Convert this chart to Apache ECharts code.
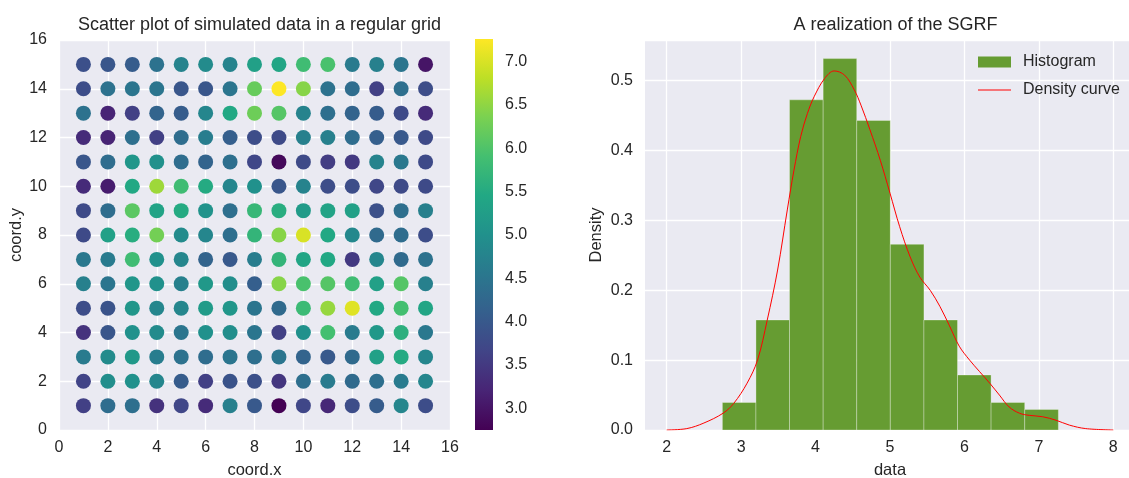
<!DOCTYPE html>
<html><head><meta charset="utf-8">
<script src="https://cdn.jsdelivr.net/npm/echarts@6/dist/echarts.min.js"></script>
<style>html,body{margin:0;padding:0;background:#fff}#c{width:1129px;height:478px}</style>
</head><body><div id="c"></div>
<script>
// ---- Data: scatter grid (rows from y=15 down to y=1, columns x=1..15) ----
const gridXs = [1,2,3,4,5,6,7,8,9,10,11,12,13,14,15];
const gridYs = [15,14,13,12,11,10,9,8,7,6,5,4,3,2,1];
const gridValues = [
  [3.85,3.95,4.05,4.45,4.75,4.9,4.75,5.3,5.4,5.85,5.95,4.6,4.7,4.5,3.0],
  [3.8,4.45,4.5,4.5,3.95,3.95,4.5,6.2,7.262,6.45,4.45,4.35,3.6,4.4,3.8],
  [4.45,3.2,3.6,4.2,4.05,4.8,5.45,6.25,6.05,4.75,4.4,4.2,4.05,3.75,3.3],
  [3.3,3.2,4.4,3.6,4.35,4.65,4.1,3.8,3.75,4.7,4.7,4.35,4.1,4.0,3.75],
  [3.95,4.35,5.1,5.0,4.35,4.2,4.4,3.7,2.85,3.75,3.55,3.5,4.75,4.55,3.75],
  [3.3,3.1,5.45,6.6,5.85,5.5,4.8,5.0,3.95,4.75,3.8,3.8,3.7,3.75,3.75],
  [3.75,4.35,6.1,5.35,5.5,5.05,4.4,5.75,5.55,5.2,5.35,5.3,3.85,4.4,4.7],
  [3.75,5.3,5.55,6.3,4.9,4.8,4.4,5.7,6.45,7.0,5.45,4.85,4.3,4.35,3.8],
  [4.55,4.6,5.85,5.0,4.8,4.2,4.0,4.65,5.7,5.4,5.45,3.5,4.8,4.3,4.45],
  [4.7,4.5,5.1,5.0,4.7,5.15,4.95,4.1,6.45,5.95,6.05,5.85,5.3,6.05,4.7],
  [3.8,3.9,5.1,4.8,4.8,5.2,5.1,4.5,4.3,5.8,6.55,7.05,5.45,5.9,5.4],
  [3.4,3.95,5.0,4.9,4.5,5.0,4.95,4.5,3.6,5.0,5.9,4.6,5.15,5.6,4.55],
  [4.6,4.9,5.15,4.65,4.45,4.35,4.5,4.4,4.5,4.2,4.0,4.3,5.3,5.5,4.8],
  [3.65,4.95,5.0,4.8,4.05,3.6,3.9,3.85,3.45,4.4,4.6,4.3,4.4,4.6,4.8],
  [3.6,4.35,4.4,3.4,3.7,3.3,4.7,4.0,2.748,3.7,3.25,3.8,4.05,4.8,3.8]
];
const colorbarTicks = [3.0,3.5,4.0,4.5,5.0,5.5,6.0,6.5,7.0];
const colorMin = 2.748, colorMax = 7.262;

// ---- Data: histogram + density curve ----
const binEdges = [2.748,3.199,3.650,4.102,4.553,5.004,5.456,5.907,6.358,6.810,7.262];
const binDensity = [0.0394,0.1575,0.4726,0.5317,0.4431,0.2658,0.1575,0.0788,0.0394,0.0295];
const kdeX = [2.0,2.27,2.5,2.757,2.9,3.08,3.22,3.35,3.49,3.62,3.71,3.80,3.89,3.98,4.12,4.25,4.39,4.52,4.61,4.73,4.87,5.0,5.13,5.27,5.40,5.54,5.67,5.80,5.93,6.07,6.20,6.34,6.47,6.60,6.74,6.87,7.05,7.23,7.41,7.63,8.0];
const kdeY = [0,0.002,0.01,0.024,0.038,0.067,0.10,0.157,0.229,0.315,0.372,0.42,0.453,0.477,0.503,0.514,0.508,0.487,0.465,0.43,0.386,0.339,0.291,0.248,0.219,0.20,0.177,0.149,0.12,0.10,0.084,0.067,0.05,0.033,0.024,0.021,0.019,0.014,0.007,0.002,0];

const viridis = ['#440154','#482475','#414487','#355f8d','#2a788e','#21918c','#22a884','#44bf70','#7ad151','#bddf26','#fde725'];

const scatterData = [];
gridYs.forEach((y, i) => gridXs.forEach((x, j) => scatterData.push([x, y, gridValues[i][j]])));
const histData = binDensity.map((d, i) => [binEdges[i], binEdges[i+1], d]);
const kdeData = kdeX.map((x, i) => [x, kdeY[i]]);

const TXT = '#262626';
const FONT = "'Liberation Sans', Arial, sans-serif";
const BG = '#EAEAF2';
const splitWhite = {show:true, lineStyle:{color:'#ffffff', width:1.3}};
const lbl = (extra) => Object.assign({color:TXT, fontSize:16, fontFamily:FONT}, extra||{});
const nameStyle = lbl({fontSize:16.5});
const gridBase = {outerBoundsMode:'none', containLabel:false, borderWidth:0};

const chart = echarts.init(document.getElementById('c'), null, {renderer:'canvas'});
chart.setOption({
  animation:false,
  textStyle:{fontFamily:FONT, color:TXT},
  title:[
    {text:'Scatter plot of simulated data in a regular grid', left:254.5, top:11, textAlign:'center',
     textStyle:{fontSize:18, fontWeight:'normal', color:TXT, fontFamily:FONT}},
    {text:'A realization of the SGRF', left:890.5, top:11, textAlign:'center',
     textStyle:{fontSize:18, fontWeight:'normal', color:TXT, fontFamily:FONT}}
  ],
  grid:[
    Object.assign({left:59, top:40, width:391, height:390, show:true, backgroundColor:BG}, gridBase),
    Object.assign({left:475, top:39, width:18, height:391, show:false}, gridBase),
    Object.assign({left:645, top:40, width:491, height:390, show:true, backgroundColor:BG}, gridBase),
    Object.assign({left:666.7, top:40, width:446.6, height:390, show:false}, gridBase)
  ],
  xAxis:[
    {type:'value', gridIndex:0, min:0, max:16, interval:2,
     axisLine:{show:false}, axisTick:{show:false}, splitLine:splitWhite,
     axisLabel:lbl({margin:10}),
     name:'coord.x', nameLocation:'middle', nameGap:32, nameTextStyle:nameStyle},
    {type:'value', gridIndex:1, min:0, max:1, show:false},
    {type:'value', gridIndex:2, min:1.7, max:8.3, show:false},
    {type:'value', gridIndex:3, min:2, max:8, interval:1,
     axisLine:{show:false}, axisTick:{show:false}, splitLine:splitWhite,
     axisLabel:lbl({margin:10}),
     name:'data', nameLocation:'middle', nameGap:32, nameTextStyle:nameStyle}
  ],
  yAxis:[
    {type:'value', gridIndex:0, min:0, max:16, interval:2,
     axisLine:{show:false}, axisTick:{show:false}, splitLine:splitWhite,
     axisLabel:lbl({margin:12}),
     name:'coord.y', nameLocation:'middle', nameGap:34, nameTextStyle:nameStyle},
    {type:'value', gridIndex:1, min:colorMin, max:colorMax, position:'right',
     axisLine:{show:false}, axisTick:{show:false}, splitLine:{show:false},
     axisLabel:lbl({margin:12, customValues:colorbarTicks, formatter:v=>Number(v).toFixed(1)})},
    {type:'value', gridIndex:2, min:0, max:0.5583, interval:0.1,
     axisLine:{show:false}, axisTick:{show:false}, splitLine:splitWhite,
     axisLabel:lbl({margin:12, showMaxLabel:false, formatter:v=>Number(v).toFixed(1)}),
     name:'Density', nameLocation:'middle', nameGap:40, nameTextStyle:nameStyle},
    {type:'value', gridIndex:3, min:0, max:0.5583, show:false}
  ],
  visualMap:[{type:'continuous', show:false, min:colorMin, max:colorMax, dimension:2, seriesIndex:0,
              inRange:{color:viridis}}],
  legend:{
    left:978, top:54, padding:0, orient:'vertical', itemWidth:33, itemHeight:11, itemGap:12, selectedMode:false,
    textStyle:{fontSize:16, color:TXT, fontFamily:FONT, padding:[0,0,0,7]},
    data:[
      {name:'Histogram', icon:'rect'},
      {name:'Density curve', icon:'path://M0,0L0,11ZM0,5L33,5L33,6L0,6Z', itemStyle:{color:'#ff0000'}}
    ]
  },
  series:[
    {type:'scatter', xAxisIndex:0, yAxisIndex:0, symbolSize:15, itemStyle:{opacity:1}, data:scatterData},
    {type:'custom', xAxisIndex:1, yAxisIndex:1, silent:true,
     data:[[0, colorMin, colorMax]],
     renderItem:function(params, api){
       const p0 = api.coord([0, api.value(1)]);
       const p1 = api.coord([1, api.value(2)]);
       const stops = viridis.map((c, i) => ({offset:1 - i/(viridis.length-1), color:c}));
       return {type:'rect', shape:{x:p0[0], y:p1[1], width:p1[0]-p0[0], height:p0[1]-p1[1]},
               style:{fill:new echarts.graphic.LinearGradient(0,0,0,1, stops.reverse())}};
     }},
    {type:'custom', name:'Histogram', xAxisIndex:3, yAxisIndex:3,
     encode:{x:[0,1], y:2},
     itemStyle:{color:'#669c32'},
     data:histData,
     renderItem:function(params, api){
       const a = api.coord([api.value(0), 0]);
       const b = api.coord([api.value(1), api.value(2)]);
       return {type:'rect', shape:{x:a[0], y:b[1], width:b[0]-a[0], height:a[1]-b[1]},
               style:{fill:'#669c32', stroke:'rgba(255,255,255,0.3)', lineWidth:1}};
     }},
    {type:'line', name:'Density curve', xAxisIndex:3, yAxisIndex:3, data:kdeData,
     smooth:0.35, symbol:'none', lineStyle:{color:'#ff0000', width:1}, itemStyle:{color:'#ff0000'}, z:5}
  ]
});
</script></body></html>
